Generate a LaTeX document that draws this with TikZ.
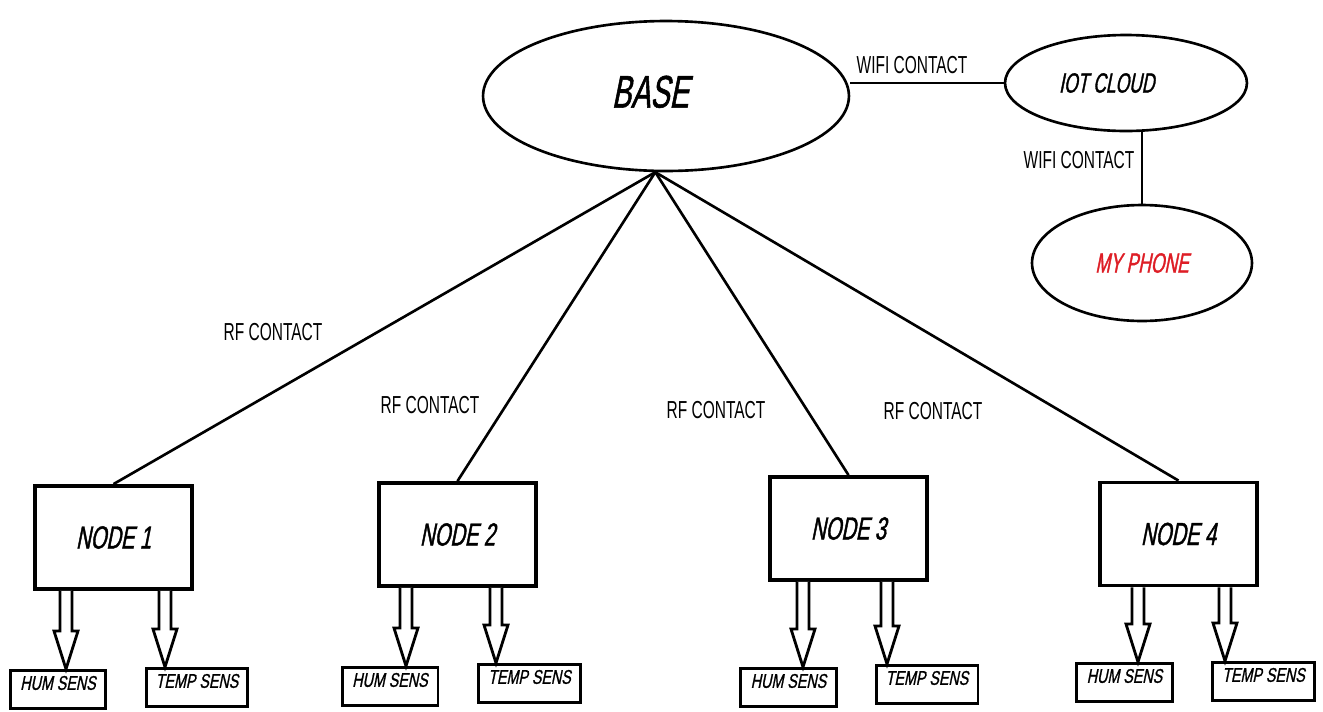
\documentclass[tikz,border=0pt]{standalone}
\usepackage{fontspec}
\setmainfont{Liberation Sans}
\newfontfamily\lblfont{Liberation Sans}[FakeStretch=0.63]
\newfontfamily\headfont{Liberation Sans}[FakeStretch=0.63,FakeSlant=0.2,FakeBold=1.2]
\newfontfamily\sensfont{Liberation Sans}[FakeStretch=0.72,FakeSlant=0.2,FakeBold=1]
\usepackage{tikz}
\usetikzlibrary{shapes.geometric,calc}
\definecolor{phonered}{RGB}{222,30,38}

\tikzset{
  link/.style={black, line width=1.5pt},
  lbl/.style={font=\lblfont\fontsize{14}{16}\selectfont, inner sep=0pt},
  oval/.style={draw, ellipse, line width=1.5pt, inner sep=0pt},
  nodebox/.style={draw, line width=2.2pt, minimum width=3.14cm, minimum height=2.06cm,
    font=\headfont\fontsize{18.2}{20}\selectfont},
  sens/.style={draw, line width=1.7pt, anchor=north, inner ysep=3pt, text height=8pt,
    text depth=7.5pt, font=\sensfont\fontsize{11.3}{13}\selectfont},
  blk/.style={line width=1.6pt, line join=miter, fill=white}
}

% hollow arrow from a node box down to a sensor box, at x = #1
\newcommand{\sensarrow}[3]{%
  \coordinate (sa) at (#1,0 |- #2.south);
  \coordinate (sb) at (#1,0 |- #3.north);
  \draw[blk] ($(sa)+(-6,0)$) -- ($(sb)+(-6,-38)$) -- ($(sb)+(-12,-38)$) -- (sb)
    -- ($(sb)+(12,-38)$) -- ($(sb)+(6,-38)$) -- ($(sa)+(6,0)$);}

\begin{document}
\begin{tikzpicture}[x=0.02cm, y=-0.02cm]
            \useasboundingbox[fill=white] (0,0) rectangle (1323,711);

            % top part
            \node[oval, minimum width=7.32cm, minimum height=3cm,
              font=\headfont\fontsize{26}{28}\selectfont] (base) at (666,96) {\raisebox{5pt}{BASE}\rule{18pt}{0pt}};
            \node[oval, minimum width=4.84cm, minimum height=1.92cm,
              font=\headfont\fontsize{15.8}{17}\selectfont] (cloud) at (1126,83) {IOT CLOUD\rule{22pt}{0pt}};
            \node[oval, minimum width=4.4cm, minimum height=2.32cm, text=phonered,
              font=\headfont\fontsize{15.8}{17}\selectfont] (phone) at (1142,263) {MY PHONE};
            \coordinate (apex) at (base.262);

            \draw[link] (cloud.west) -- (cloud.west -| base.east);
            \draw[link] (phone.north) -- (phone.north |- cloud.south);
            \node[lbl] (wifi1) at (912,65) {WIFI CONTACT};
            \node[lbl] (wifi2) at (1079,160) {WIFI CONTACT};

            % the four nodes
            \foreach \i/\x/\y in {1/113.5/537.5, 2/457.5/534.5, 3/848.5/528.5, 4/1178.5/534}
            {
              \node[nodebox] (n\i) at (\x,\y) {NODE \i};
              \draw[link] (apex) -- (n\i.north);
            }
            \node[lbl] (rf1) at (273,332) {RF CONTACT};
            \node[lbl] (rf2) at (430,405) {RF CONTACT};
            \node[lbl] (rf3) at (716,410) {RF CONTACT};
            \node[lbl] (rf4) at (933,411) {RF CONTACT};

            % sensors
            \foreach \i/\hx/\hy/\tx/\ty/\a/\b in {1/58/669/197/667/66/165,
                2/390/666/529.5/663/406/496, 3/788.5/667/927/664/803/887,
                4/1124.5/662/1263.5/661/1138/1225}
            {
              \node[sens, minimum width=1.92cm] (hum\i) at (\hx,\hy) {HUM SENS};
              \node[sens, minimum width=2.04cm] (temp\i) at (\tx,\ty) {TEMP SENS};
              \sensarrow{\a}{n\i}{hum\i}
              \sensarrow{\b}{n\i}{temp\i}
            }
        \end{tikzpicture}
\end{document}
